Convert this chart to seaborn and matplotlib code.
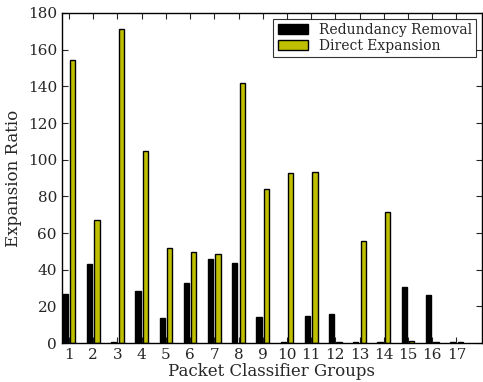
import matplotlib
matplotlib.use("Agg")
import matplotlib.pyplot as plt
import seaborn as sns
import pandas as pd

groups = [str(i) for i in range(1, 18)]
redundancy_removal = [26.6, 43.0, 0.5, 28.3, 13.9, 32.5, 46.1, 43.7, 14.2,
                      0.8, 14.6, 16.1, 0.4, 0.8, 30.4, 26.4, 0.8]
direct_expansion = [154.1, 66.9, 171.2, 104.6, 51.6, 49.4, 48.5, 141.9, 84.0,
                    92.6, 93.3, 0.8, 55.6, 71.3, 1.0, 0.8, 0.8]
series_names = ["Redundancy Removal", "Direct Expansion"]
y_ticks = [0, 20, 40, 60, 80, 100, 120, 140, 160, 180]

df = pd.DataFrame({
    "group": groups * 2,
    "value": redundancy_removal + direct_expansion,
    "series": [series_names[0]] * len(groups) + [series_names[1]] * len(groups),
})

sns.set_style("ticks")
plt.rcParams["font.family"] = ["DejaVu Serif"]
plt.rcParams["xtick.direction"] = "in"
plt.rcParams["ytick.direction"] = "in"

fig = plt.figure(figsize=(4.83, 3.82), dpi=100)
ax = fig.add_axes([0.128, 0.102, 0.870, 0.864])

sns.barplot(data=df, x="group", y="value", hue="series", ax=ax,
            palette={series_names[0]: "black", series_names[1]: "#bfbf00"},
            saturation=1, width=0.62, gap=0.3, edgecolor="black",
            linewidth=1.0, errorbar=None)

ax.set_xlim(-0.30, 17.06)
ax.set_ylim(0, 180)
ax.set_yticks(y_ticks)
ax.tick_params(axis="both", labelsize=11, length=4, width=0.8,
               top=True, right=True, direction="in")
ax.set_xlabel("Packet Classifier Groups", fontsize=12, labelpad=1)
ax.set_ylabel("Expansion Ratio", fontsize=12)
for s in ax.spines.values():
    s.set_linewidth(1.0)
    s.set_color("black")

leg = ax.legend(loc="upper right", fontsize=10, frameon=True, fancybox=False,
                edgecolor="black", borderpad=0.3, labelspacing=0.15,
                handlelength=2.2, borderaxespad=0.4)
leg.get_frame().set_linewidth(0.8)

fig.savefig("out.png", dpi=100)
